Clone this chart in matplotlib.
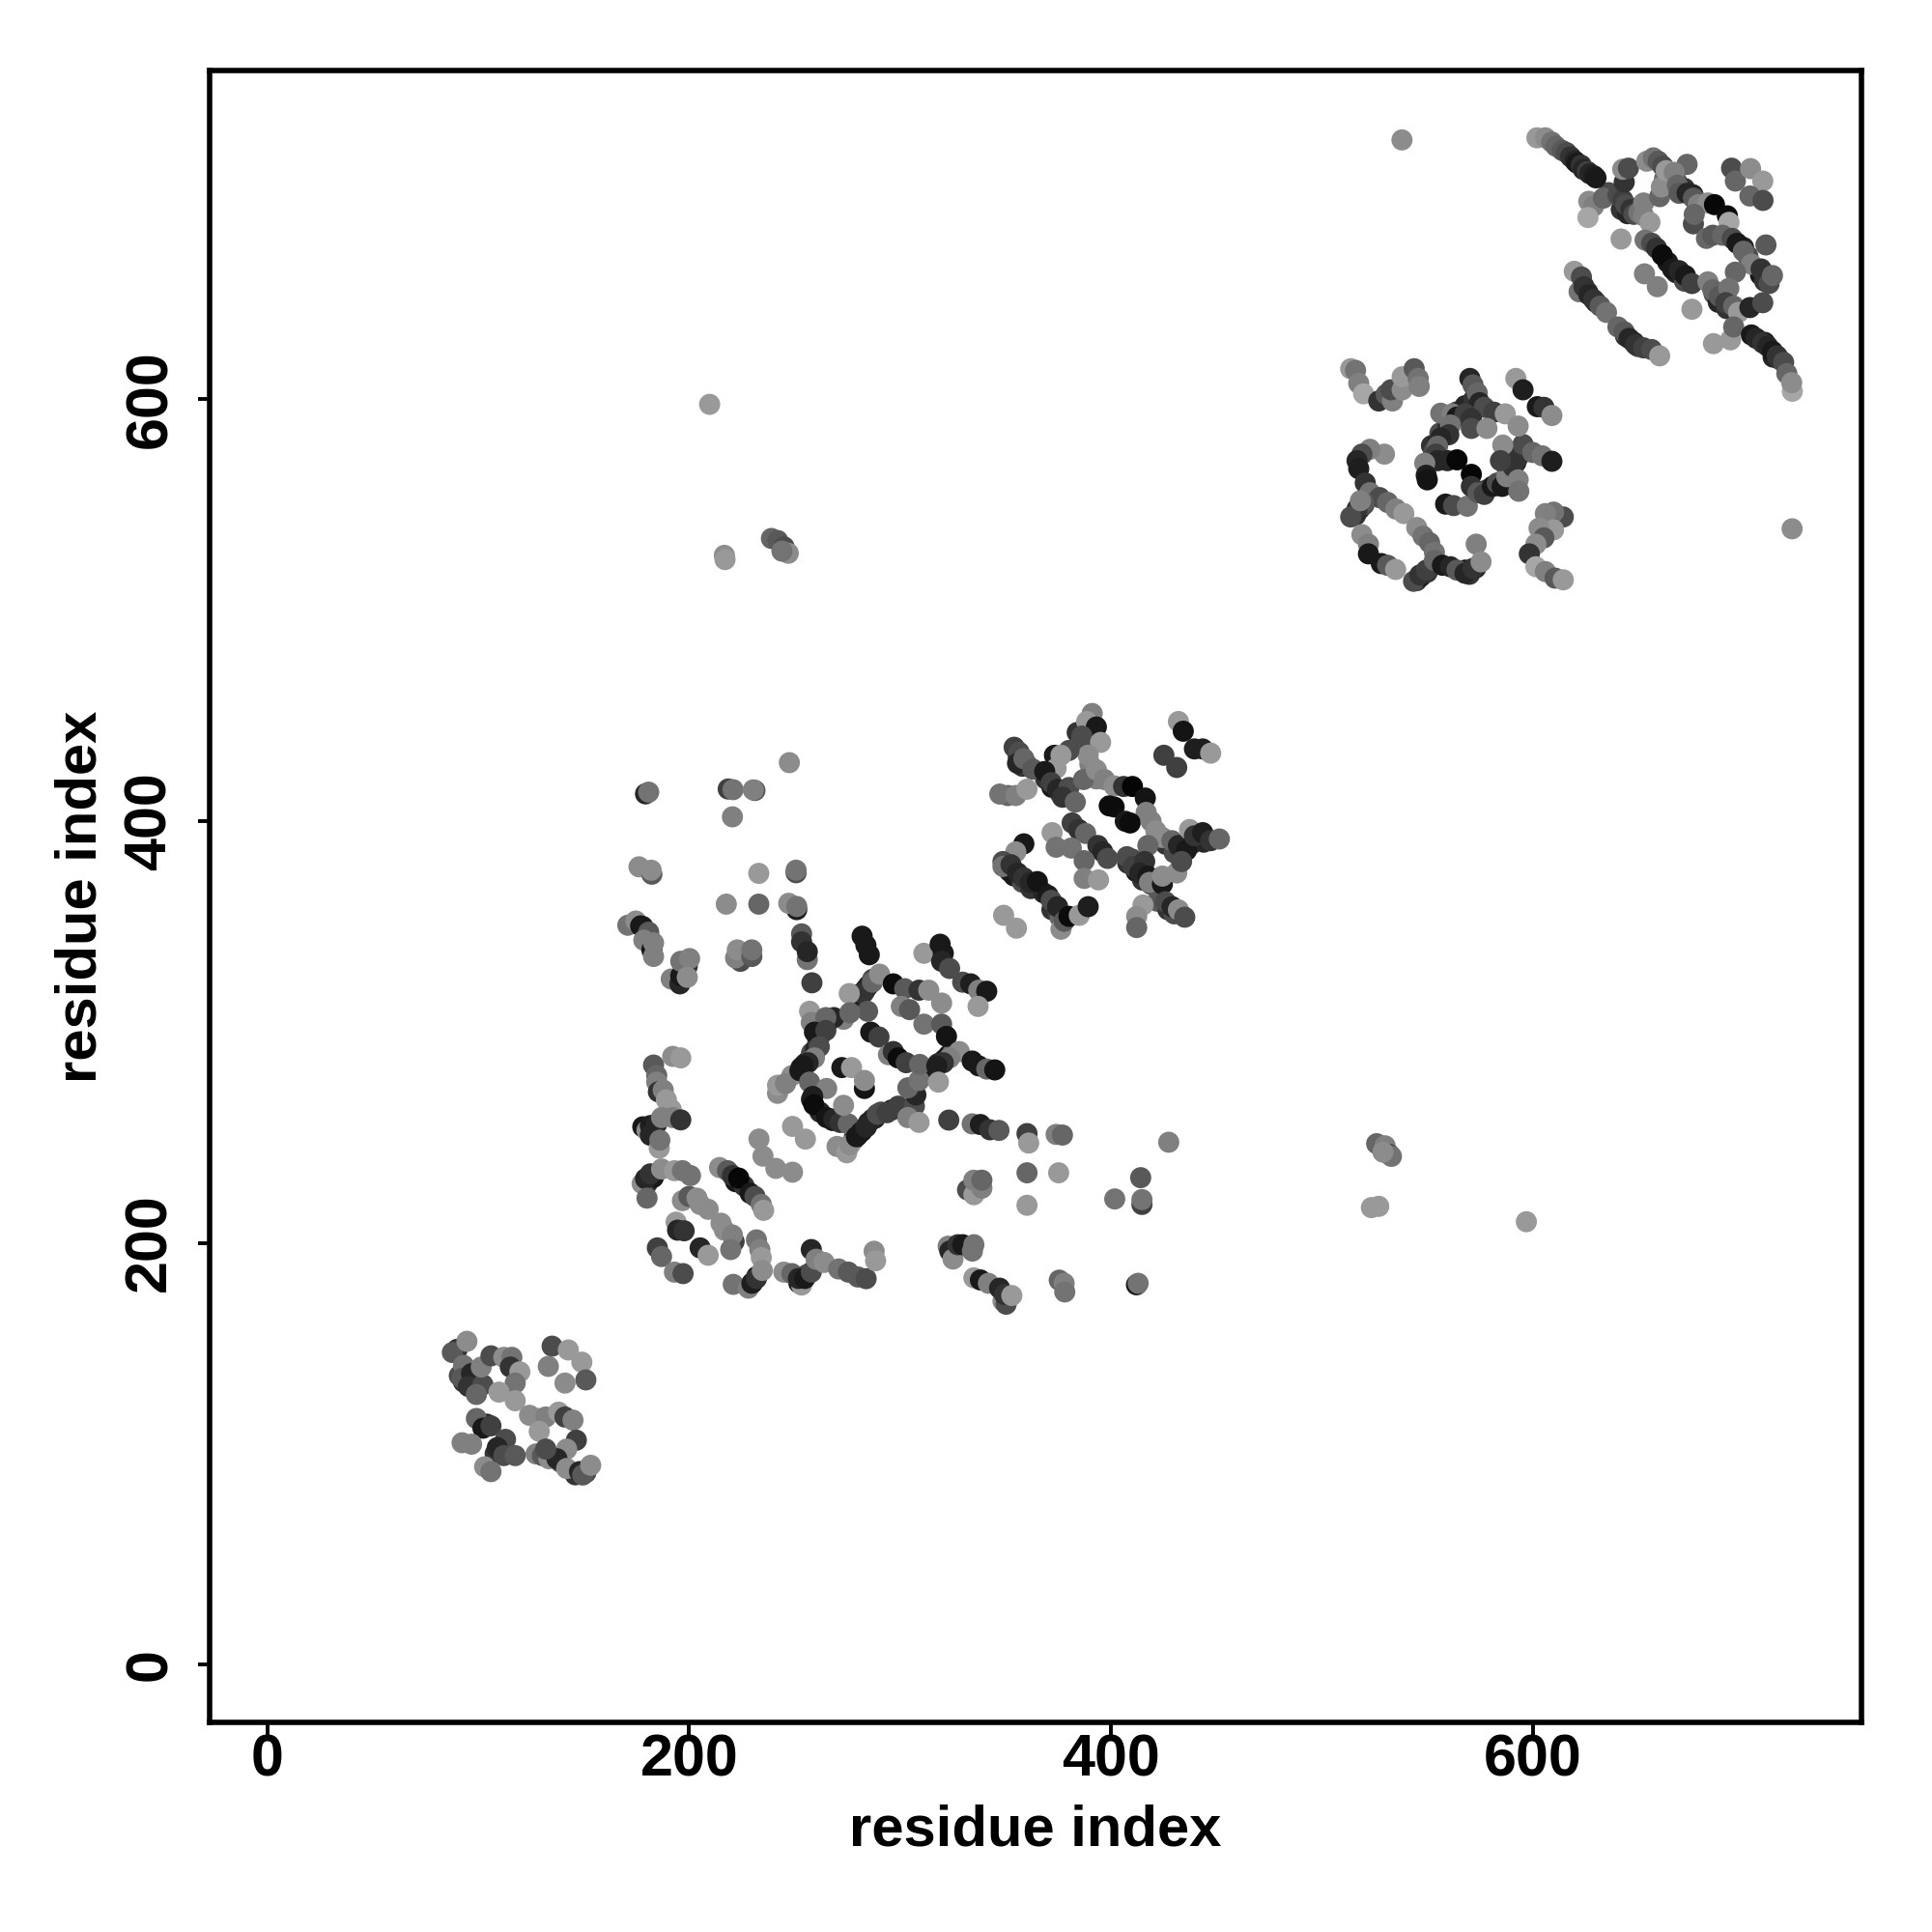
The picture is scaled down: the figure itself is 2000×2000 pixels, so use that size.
import numpy as np
import matplotlib
matplotlib.use("Agg")
import matplotlib.pyplot as plt

plt.rcParams['font.family'] = ['Liberation Sans', 'DejaVu Sans']

# contacts as (residue i, residue j, shade), one list per domain block
isolated = [(538,723,.55),(723,538.6,.55),(209.7,597.6,.6),(597,210,.6),(523.5,216.7,.6),(527,217.3,.6),
    (526,247,.4),(530,246,.5),(532,242,.3),(533,241,.45),(529,243,.55),(216.7,526,.55),(217,524,.6),(239,534,.4),
    (242,533,.35),(245,530,.3),(247,527,.55),(244,528,.45)]

# dense runs inside the strands, drawn underneath the others
strand_runs = [(278,249,.15),(280,251,.1),(282,253,.2),(284,255,.1),(285,257,.15),(288,259,.12),(291,262,.3),(296,263,.15),
    (253,283,.1),(255,285,.2),(257,287,.1),(258,290,.3),(260,292,.15),(261,296,.2),(262,298,.3),(279,316,.15),
    (281,318,.1),(283,319,.2),(285,322,.12),(287,325,.3),(316,283,.1),(318,285,.2),(321,287,.15),(323,289,.1),
    (325,290,.4),(268,258,.1),(262,262,.15),(258,268,.1),(263,305,.3),(266,305,.2),
    (552,578,.2),(553,575,.3),(555,580,.15),(556,584,.3),(560,588,.15),(564,594,.2),(568,597,.15),(572,600,.2),
    (576,556,.15),(578,557,.3),(582,559,.2),(588,565,.15),(592,570,.1),(594,574,.3),(516,545,.2),(518,548,.15),
    (520,550,.3),(545,514,.2),(547,516,.1),(550,518,.2),(568,519,.1),(570,517,.2),(573,520,.15),
    (356,431,.2),(358,426,.2),(360,427,.3),(369,420,.2),(372,416,.1),(376,413,.3),(378,414,.2),(384,442,.2),
    (386,437,.4),(388,435,.3),(390,427,.5),(393,420,.5),(408,380,.2),(410,382,.3),(412,376,.1),(415,372,.2),
    (419,370,.3),(352,376,.15),(354,374,.1),(358,371,.3),(362,368,.2),(368,366,.15),(372,358,.2),(375,356,.25),
    (376,354,.4),(426,389,.2),(430,385,.3),(434,387,.2),(438,389,.1),(441,391,.2),(444,390,.15),(422,362,.35),
    (427,358,.2),(430,356,.3),
    (636,698,.3),(642,690,.2),(645,688,.15),(664,665,.1),(668,660,.15),(672,656,.3),(686,650,.3),(688,646,.15),
    (692,643,.2),(700,672,.15),(702,668,.3),(708,659,.1),(710,656,.2),(624,654,.1),(626,651,.2),(630,646,.1),
    (644,630,.2),(648,627,.1),(650,625,.3),(710,627,.1),(714,620,.15),(717,619,.2),(664,706,.4),(668,704,.35),
    (672,700,.2),(676,697,.15),(680,693,.4),
    (252,181,.1),(254,184,.2),(256,185,.3),(230,181,.15),(232,184,.1),(178,255,.1),(183,254,.2),(180,228,.2),
    (183,231,.1),(222,229,.1),(226,227,.2),(178,350,.15),(181,345,.1),
    (91,137,.3),(93,134,.2),(97,133,.15),(146,90,.2),(151,91,.3),(136,98,.2),(139,96,.3),(104,114,.15),(108,100,.2)]

block_top = [(602,724,.6),(606,724,.55),(609,722,.45),(611,720,.4),(614,718,.35),(616,717,.3),(618,715,.2),
    (620,713,.15),(621,712,.1),(623,711,.2),(624,709,.15),(626,708,.25),(627,707,.15),(629,706,.12),(630,705,.1),
    (626.6,693.9,.55),(628.9,691.6,.5),(626.2,686.2,.65),(633.5,695.4,.4),(640.4,696.9,.3),(642.7,694.6,.25),
    (644.2,692.3,.3),(646.5,690,.2),(648,687.7,.3),(650.3,688.5,.45),(652.6,693.1,.5),(652.6,687,.5),(655.6,683.9,.6),
    (643.4,703,.2),(642.7,709.1,.55),(645.4,709.6,.3),(654.1,712.9,.55),(657.2,714.5,.45),(659.5,712.9,.35),
    (661.7,710.6,.3),(660.2,696.1,.4),(662.5,704.5,.4),(661,700.7,.55),(663.3,708.4,.6),(673.2,711.4,.4),
    (667.1,707.6,.5),(668.6,701.5,.4),(669.4,697.7,.35),(673.2,697.7,.15),(676.2,695.4,.35),(678.5,692.3,.5),
    (683.1,693.1,.55),(686.2,692.3,.03),(676.2,683.2,.3),(676.6,687.7,.4),(692.3,687,.05),(693.1,683.9,.65),
    (694.3,709.6,.3),(696.1,703.5,.4),(703.3,709.4,.55),(709.1,703.5,.6),(703,696.4,.4),(709.2,694.3,.3),
    (641.9,676,.6),(653.3,675.5,.45),(656.4,674,.3),(658.7,671.7,.2),(661.4,668.4,.05),(666.3,661.8,.1),
    (669.4,661,.15),(672.4,658.7,.1),(675.5,654.9,.25),(653,659.5,.5),(659.1,653.4,.5),(675.5,642.7,.6),
    (682.4,676.3,.4),(685.4,677.8,.35),(690,677.8,.4),(694.6,676.3,.3),(696.9,674,.1),(699.9,670.2,.4),
    (710.6,673.2,.35),(703.7,664.1,.5),(708.3,661.8,.2),(712.1,654.9,.3),(713.7,658.7,.4),(696.1,660.3,.4),
    (683.1,655.7,.5),(685.4,651.9,.4),(688.5,648.8,.35),(693,652.6,.45),(691.5,645.8,.25),(695.3,644.2,.4),
    (697.6,641.2,.6),(703,643.5,.15),(709.1,645.8,.3),(685.7,626.4,.6),(693.8,628.2,.6),(695.3,634.3,.4),
    (703.7,630.5,.1),(706,628.9,.15),(709.1,626.7,.2),(711.4,625.2,.15),(713.7,622.8,.1),(715.9,620.6,.2),
    (719,617.5,.3),(723.1,603.8,.65),(720.5,612.2,.4),(722.8,607.9,.55),(619.7,660.7,.6),(622,651,.45),
    (623.1,658,.3),(624.3,653.4,.2),(626.6,649.6,.15),(628.9,647.3,.2),(632,644.2,.35),(635,641.2,.45),
    (640.4,634.3,.4),(643.4,632,.35),(645.7,628.9,.15),(648.8,625.9,.2),(652.6,624.4,.25),(656.4,623.6,.3),
    (660.2,620.6,.6)]

block_upper = [(513.7,614.5,.6),(516,613.7,.45),(517.5,607.6,.5),(519.8,602.6,.65),(527,599.2,.2),(530.5,602.3,.35),
    (533.5,599.2,.5),(532.8,604.5,.3),(538.1,604.5,.55),(538.1,610.7,.6),(543.8,614.5,.35),(545.7,609.9,.45),
    (546.2,606.1,.5),(570.2,609.9,.15),(571.7,606.8,.35),(573.7,603,.4),(574.8,598.4,.15),(577,596.2,.3),
    (581.6,593.9,.25),(587,593.1,.6),(556.4,593.4,.45),(561.8,593.1,.5),(564.1,591.6,.1),(567.9,593.1,.25),
    (570.9,590.8,.2),(570.9,586.2,.3),(578.3,586.2,.55),(561,587.8,.45),(560.2,583.2,.2),(556.4,581.6,.15),
    (554.9,577.8,.4),(554.1,574,.25),(554.9,570.9,.15),(559.5,570.9,.15),(564.1,571.3,.03),(548.8,569.7,.5),
    (549.5,564,.12),(550,561.8,.08),(558.7,550.3,.1),(562.5,549.6,.3),(569,549.3,.45),(570.9,564.4,.02),
    (570.9,558.7,.2),(574,555.7,.35),(577,554.9,.25),(580.9,558.7,.1),(583.2,560.3,.3),(585.5,558.7,.1),
    (587.7,563.3,.5),(590.8,567.9,.2),(593.1,572.5,.2),(595.4,578.6,.3),(593.1,587.3,.55),(585.8,578.3,.55),
    (584.7,570.9,.25),(593.1,561.8,.5),(593.4,556.4,.45),(600,574.8,.4),(604.5,573.2,.45),(609.1,570.6,.12),
    (592,609.9,.6),(595.4,604.5,.12),(602.2,596.5,.1),(605.3,596.2,.2),(609.1,592.3,.55),(529.7,574,.55),
    (522.8,576.3,.5),(519,574,.3),(516.7,570.9,.15),(517.5,567.1,.12),(520.6,560.3,.2),(522.8,555.7,.45),
    (527.4,553.4,.3),(531.2,551.1,.4),(535.1,548,.5),(538.9,545.8,.6),(519.8,551.1,.35),(516.7,548,.2),
    (513.7,544.2,.3),(518.3,551.9,.5),(545,539.2,.55),(548,535.1,.45),(551.1,532,.4),(553.4,527.4,.45),
    (519,535.8,.55),(522.1,531.3,.5),(522.1,526.7,.1),(528.2,522.1,.1),(531.2,521.3,.35),(535,519.3,.6),
    (543.5,513.7,.3),(546.5,516.7,.2),(549.6,519,.25),(553.4,523.6,.4),(557.2,521.3,.1),(561,520.6,.15),
    (564.1,519,.35),(567.9,517.5,.15),(571.7,519.8,.2),(573.2,531.3,.5),(575.5,522.9,.55),(614.5,544.2,.3),
    (609.9,546.5,.45),(606,545.8,.5),(609.9,538.1,.6),(603,538.9,.55),(605.3,534.3,.35),(601.5,531.3,.55),
    (598.4,526.7,.2),(601.5,520.6,.65),(606,518.3,.5),(610.6,515.2,.35),(614.5,514.4,.6)]

block_middle = [(391.1,451,.5),(388.5,447.2,.6),(393.1,444.6,.1),(386.2,440.3,.3),(395.1,437.3,.6),(389.2,431.2,.55),
    (380.1,433.5,.3),(373.2,431.2,.1),(376.3,431.2,.6),(374,425,.6),(354.1,435,.25),(356.4,432.7,.3),
    (355.7,427.4,.15),(358.7,429.6,.4),(363,424.6,.35),(368.6,423.5,.1),(371.7,418.2,.25),(374.7,415.1,.15),
    (380.1,415.9,.3),(377,411.3,.2),(383.1,409,.4),(387,419.7,.4),(393.1,424.3,.55),(396.9,419.7,.5),
    (401.5,416.7,.55),(406,416.4,.2),(410.2,416.4,.02),(416.3,410.9,.08),(399.2,407.2,.05),(401.5,406.7,.05),
    (416.7,404.1,.5),(406.8,399.9,.1),(409.1,399.1,.05),(419,399.9,.5),(421.3,395.3,.55),(424.4,392.2,.55),
    (428.9,390.7,.4),(432,388.4,.15),(435.8,386.1,.1),(437.3,396,.6),(439.6,393,.2),(443.5,394.5,.12),
    (447.3,390.7,.2),(451.4,391.5,.4),(417.5,388.4,.4),(351.1,412.1,.4),(347.3,412.8,.45),(354.9,412.1,.5),
    (360.2,415.1,.6),(432,447.2,.6),(434.3,442.6,.08),(439.6,434.2,.12),(443.5,434.2,.12),(447.3,432.2,.6),
    (425.1,431.2,.25),(431.2,425.4,.25),(381.6,399.1,.25),(384.7,396,.2),(388,394.1,.4),(372.1,394.5,.6),
    (374,387.6,.45),(381.2,387.2,.45),(393.8,388.4,.2),(396.1,385.4,.15),(398.4,382.3,.3),(387.3,381.2,.4),
    (387.3,372.8,.5),(394.1,372.1,.6),(358.7,389.2,.1),(354.9,385.4,.55),(348.8,380.8,.3),(348.8,378.5,.45),
    (352.6,379.3,.2),(355.7,375.4,.15),(358.7,373.1,.2),(361.8,370.9,.15),(365.1,371.3,.08),(370.2,364.7,.1),
    (371.7,362.4,.3),(374.7,359.4,.15),(376.3,348.7,.55),(377.8,352.5,.35),(380.1,354.8,.05),(385,355.3,.6),
    (389.2,359.4,.12),(349.1,355.3,.6),(355.2,349.2,.6),(415.2,360.2,.6),(412.2,354.8,.55),(412.2,349.5,.4),
    (407.6,383.1,.3),(410.6,378.5,.25),(416,380.8,.2),(413.7,375.4,.15),(417.5,373.9,.1),(418.3,370.9,.5),
    (424.4,370.1,.1),(424.4,373.9,.55),(431.2,375.4,.55),(433.5,380.8,.3),(425.9,361.7,.3),(429,359.4,.15),
    (432,357.9,.55),(435,354.4,.3)]

block_lower = [(253.3,346.5,.35),(253.3,342.7,.2),(256,334.3,.45),(256,338.1,.15),(258.2,323.3,.25),(282,345.4,.1),
    (283.8,341.1,.1),(285.4,336.6,.1),(283.8,320.5,.15),(282.3,318.2,.2),(286.9,323.6,.4),(290.3,327.4,.55),
    (275.9,318.2,.6),(284.6,309.8,.35),(257.1,309.8,.6),(257.9,304.5,.5),(273.2,306,.5),(268.6,306.8,.15),
    (264.8,306.8,.4),(276.2,309.1,.4),(259.4,299.9,.1),(264.8,300.7,.25),(261.7,293,.3),(259.4,287.7,.5),
    (248.7,279.3,.55),(241.9,270.9,.55),(241.9,274.7,.6),(245.7,275.5,.5),(256.4,285.4,.15),(254.1,283.9,.1),
    (252.5,281.6,.1),(257.1,276.2,.4),(265.2,273.2,.5),(258.6,269.4,.12),(259.1,265.5,.05),(265.2,259.4,.08),
    (268.6,258.7,.15),(271.6,257.1,.2),(275.4,256.4,.4),(273.2,265.2,.55),(270.1,245.7,.55),(274.7,242.7,.6),
    (276.2,246.5,.55),(279.3,250.3,.1),(281.6,252.6,.1),(283.8,254.9,.15),(286.9,258.7,.15),(289.2,261,.3),
    (293.8,261.7,.25),(299.1,264.8,.25),(306.8,264.8,.3),(303.7,259.4,.5),(309,257.1,.6),(307.5,270.1,.15),
    (303.7,273.5,.4),(309,277,.45),(272.4,283.1,.1),(277,283.1,.6),(283.1,273.2,.08),(283.1,277,.55),
    (249,255.2,.6),(255.1,249.2,.6),(233.1,249.2,.55),(235,241.1,.55),(241.1,235.3,.55),(249,233.5,.55),
    (286.1,299.9,.1),(290,297.6,.25),(294.5,289.2,.5),(296.8,290.7,.2),(299.1,287.7,.05),(302.9,285.4,.25),
    (309.3,284.6,.4),(296.8,322.8,.05),(302.2,320.5,.35),(300.6,312.1,.5),(304.5,310.6,.35),(309,319.8,.2),
    (313.6,319.8,.55),(311.3,337.3,.6),(319,341.6,.1),(320.5,337.3,.1),(319.7,333.5,.15),(323.5,330.1,.3),
    (329.7,323.6,.3),(333.5,322.8,.12),(337.3,319.8,.5),(341.1,319.3,.1),(337,312.1,.6),(311.3,303.7,.45),
    (319.7,313.7,.55),(319.7,303.7,.35),(322,297.9,.08),(328.1,290.7,.55),(323.5,287.7,.5),(320.5,285.4,.2),
    (317.4,283.9,.12),(318.2,276.2,.6),(334.2,286.2,.1),(337.3,283.9,.1),(341.1,282.4,.4),(344.9,282,.08),
    (323.1,258.2,.25),(334.2,256.4,.45),(338.1,256.1,.12),(342.6,253.6,.2),(346.9,253.3,.35)]

block_offdiag = [(360.2,251.8,.25),(361,247.3,.6),(374,251.4,.5),(377,251.1,.4),(360.2,233.2,.4),(375.2,233.2,.6),
    (360.2,217.8,.6),(427.4,247.7,.5),(332,225.1,.3),(335,222.8,.6),(335,229.7,.5),(338.8,225.9,.5),(338.8,229.7,.4),
    (414.1,230.9,.35),(414.7,218.2,.25),(414.7,220.5,.45),(401.8,220.8,.45),(322.8,198.4,.5),(323.6,196.1,.15),
    (325.1,192.3,.55),(327.4,199.1,.2),(329.7,199.1,.1),(334.3,196.1,.45),(335,199.1,.45),(335,183.4,.6),
    (338.1,182.4,.1),(341.9,180.8,.5),(348.8,172.4,.55),(350.3,170.9,.3),(347.2,178.5,.15),(349.5,175.5,.2),
    (353,175,.6),(375.5,182.3,.4),(377.8,180.8,.5),(378.1,176.7,.45),(412.1,180.1,.1),(412.9,180.8,.45),
    (247.5,427.7,.55),(179.3,412.9,.15),(180.8,413.7,.45),(218.5,415.2,.25),(220.8,414.9,.45),(231.2,414.5,.35),
    (230.4,414.8,.5),(220.5,402,.5),(176.2,378.3,.55),(182.3,374.8,.35),(182,376.7,.55),(233,375.2,.6),
    (250.7,375.5,.3),(250.7,376.7,.45),(217.6,360.6,.55),(233,360.6,.4),(251,358,.12),(247.2,361,.55),(251,359.5,.45),
    (170.9,350.6,.45),(174.7,352.6,.55),(177,350.3,.1),(180.8,347.3,.35),(178.5,343.5,.5),(182.3,338.9,.08),
    (183.1,335.8,.5),(183.1,342.2,.5),(191.5,325.1,.5),(195.6,322.8,.15),(196,326.6,.1),(199.1,331.2,.2),
    (196,333.5,.45),(200.2,334.8,.5),(199.1,325.9,.55),(224.3,333.5,.3),(222,335.1,.5),(222.8,338.9,.55),
    (229.7,335.8,.35),(229.7,338.9,.45)]

block_left = [(192.2,288.4,.55),(196,287.7,.6),(183.1,284.3,.35),(184.6,279.3,.4),(184.6,276.2,.5),(185.4,271.6,.2),
    (187.7,272.4,.5),(189.2,267.8,.6),(191.5,263.2,.6),(180,253.3,.55),(181.6,255.6,.12),(181.6,251,.15),
    (184.6,256.4,.15),(186.9,259.4,.5),(192.2,259.4,.5),(196,258.3,.2),(185.8,244.9,.6),(186.1,248.7,.45),
    (177.7,228.1,.55),(179.3,230.4,.15),(181.6,232.7,.2),(186.9,235,.55),(180,221.2,.4),(193,234.2,.6),
    (196.8,234.2,.45),(200.6,231.9,.45),(196.8,220,.55),(199.9,222,.35),(203.7,221.2,.55),(205.2,218.2,.55),
    (209,215.9,.55),(214.4,235.7,.55),(218.2,234.2,.35),(220.5,231.9,.2),(223.5,230.7,.03),(228.9,223.5,.1),
    (231.2,222,.3),(234.2,218.2,.45),(235.3,215.4,.6),(193.8,209.8,.6),(194.5,206,.15),(197.6,205.7,.2),
    (205.2,197.6,.15),(209,194.1,.6),(215.1,209.3,.55),(216.7,206,.55),(221.3,200.6,.25),(220.5,203.7,.5),
    (219.7,196.8,.45),(231.9,201.4,.45),(233.5,196.8,.5),(234.2,193,.6),(184.9,197.6,.25),(186.9,193.5,.4),
    (193,186.1,.5),(197.1,185.4,.3),(220.9,180.3,.45),(228.1,178.5,.5),(229.7,180.8,.12),(231.9,183.1,.2),
    (234.7,186.9,.55),(244.9,186.1,.55),(248.7,185.4,.4),(253.3,180,.6),(251.8,183.1,.15),(254.8,183.1,.1),
    (257.9,186.1,.3),(257.9,196.8,.15),(260.2,192.2,.5),(264,190.7,.55),(270.9,187.6,.45),(275.5,186.1,.35),
    (280,183.8,.35),(283.9,183,.3),(287.7,196,.55),(288.4,191.5,.6)]

block_bottom = [(90,149.5,.2),(87.7,148,.35),(94.6,153.3,.55),(93,141.9,.45),(92.3,135.8,.35),(96.8,138,.15),
    (95.3,131.9,.2),(102.2,132.7,.3),(99.1,128.1,.4),(101.4,141.1,.5),(106,146.4,.3),(112.1,145.7,.55),
    (115.9,145.7,.45),(115.2,141.1,.2),(119.7,138.8,.6),(117.5,133.5,.45),(109.8,129.2,.6),(117.5,125.1,.6),
    (135,151,.3),(142.7,149.2,.6),(149.1,143.4,.6),(133.2,141.4,.5),(151,135,.35),(141.1,133.5,.55),
    (124.3,118.2,.55),(128.1,116.7,.55),(132,117.4,.5),(128.9,110.6,.6),(138.1,119.7,.6),(141.1,117.4,.25),
    (144.9,115.9,.5),(146.5,106.4,.25),(141.9,102.2,.55),(99.1,116.7,.4),(102.2,112.1,.1),(106,113.2,.25),
    (92.3,105.2,.5),(96.8,104.5,.5),(112.9,106.8,.3),(109,102.9,.15),(112.1,99.1,.3),(117.5,99.1,.35),
    (103,93.8,.55),(106,91.5,.45),(127.4,99.9,.5),(130.4,99.1,.35),(133.5,97.6,.55),(137.3,97.6,.15),
    (132,102.2,.3),(141.9,93,.55),(148,91.5,.15),(149.5,89.9,.35),(153.3,94.5,.55)]

tick_values = [0, 200, 400, 600]

contacts = np.array(strand_runs + isolated + block_top + block_upper + block_middle + block_lower
                    + block_offdiag + block_left + block_bottom)

fig = plt.figure(figsize=(10, 10), dpi=200)
ax = fig.add_axes([0.1084, 0.1084, 0.8552, 0.8552])
ax.scatter(contacts[:, 0], contacts[:, 1], c=contacts[:, 2], cmap='gray', vmin=0, vmax=1,
           s=62, linewidths=0, zorder=3)

ax.set_xlim(-27.5, 756)
ax.set_ylim(-27.5, 756)
ax.set_xticks(tick_values)
ax.set_yticks(tick_values)
ax.tick_params(axis='both', length=4.5, width=1.4, labelsize=22)
ax.tick_params(axis='x', pad=-0.5)
ax.tick_params(axis='y', pad=7)
for lab in ax.get_xticklabels() + ax.get_yticklabels():
    lab.set_fontweight('bold')
for lab in ax.get_yticklabels():
    lab.set_rotation(90)
    lab.set_va('center')
for spine in ax.spines.values():
    spine.set_linewidth(2.0)

ax.set_xlabel('residue index', fontsize=21.5, fontweight='bold')
ax.set_ylabel('residue index', fontsize=21.5, fontweight='bold')
ax.xaxis.set_label_coords(0.5, -0.049)
ax.yaxis.set_label_coords(-0.0614, 0.5)

fig.savefig('out.png', dpi=200)
